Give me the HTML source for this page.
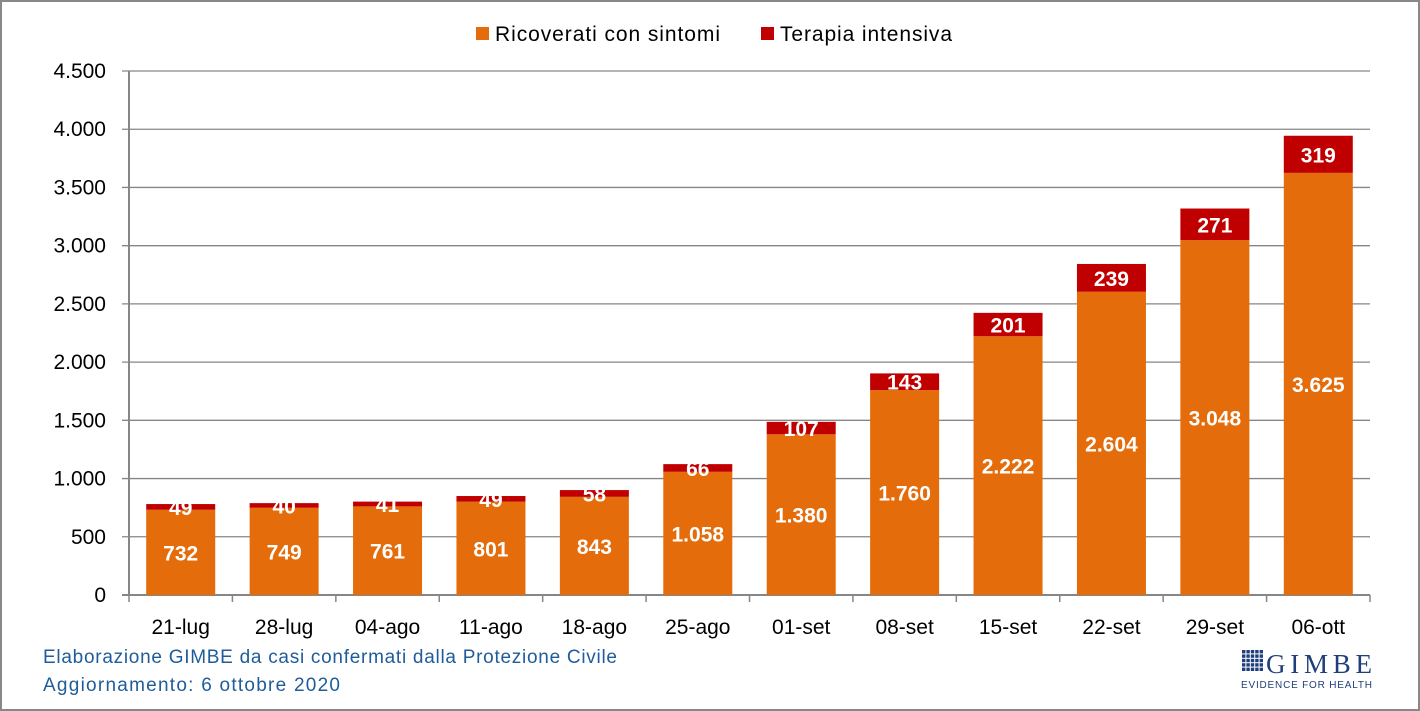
<!DOCTYPE html>
<html><head><meta charset="utf-8"><style>
html,body{margin:0;padding:0;background:#fff;}
svg{display:block;font-family:"Liberation Sans",Calibri,sans-serif;}
</style></head><body>
<svg id="c" width="1420" height="711" xmlns="http://www.w3.org/2000/svg">
<rect x="1" y="1" width="1418" height="709" fill="#fff" stroke="#888" stroke-width="2"/>
</svg>
<script>
const s=document.getElementById('c');const NS='http://www.w3.org/2000/svg';
function el(t,a,txt){const e=document.createElementNS(NS,t);for(const k in a)e.setAttribute(k,a[k]);if(txt!==undefined)e.textContent=txt;s.appendChild(e);return e;}
const y0=595,k=(595-71)/4500,x0=129,cw=(1370-129)/12,bw=69;
const labs=["0","500","1.000","1.500","2.000","2.500","3.000","3.500","4.000","4.500"];
for(let i=0;i<10;i++){const y=y0-i*500*k;
 el('line',{x1:122,x2:1370,y1:y,y2:y,stroke:'#868686','stroke-width':i==0?2:1.3});
 el('text',{x:106,y:y+7,'text-anchor':'end','font-size':21,fill:'#000'},labs[i]);}
el('line',{x1:x0,x2:x0,y1:71,y2:y0,stroke:'#868686','stroke-width':2});
const cats=["21-lug","28-lug","04-ago","11-ago","18-ago","25-ago","01-set","08-set","15-set","22-set","29-set","06-ott"];
const o=[732,749,761,801,843,1058,1380,1760,2222,2604,3048,3625];
const r=[49,40,41,49,58,66,107,143,201,239,271,319];
const fmt=v=>v>=1000?Math.floor(v/1000)+'.'+String(v%1000).padStart(3,'0'):String(v);
for(let i=0;i<=12;i++){const x=x0+i*cw;el('line',{x1:x,x2:x,y1:y0,y2:602,stroke:'#868686','stroke-width':1.5});}
for(let i=0;i<12;i++){const cx=x0+cw*(i+0.5);const yo=y0-o[i]*k,yr=yo-r[i]*k;
 el('rect',{x:cx-bw/2,y:yo,width:bw,height:y0-yo,fill:'#E46C0A'});
 el('rect',{x:cx-bw/2,y:yr,width:bw,height:yo-yr,fill:'#C00000'});
 el('text',{x:cx,y:(yo+y0)/2+8,'text-anchor':'middle','font-size':21,'font-weight':'bold',fill:'#fff'},fmt(o[i]));
 el('text',{x:cx,y:(yr+yo)/2+8,'text-anchor':'middle','font-size':21,'font-weight':'bold',fill:'#fff'},fmt(r[i]));
 el('text',{x:cx,y:634,'text-anchor':'middle','font-size':21,fill:'#000'},cats[i]);}
el('rect',{x:476,y:27,width:13,height:13,fill:'#E46C0A'});
el('text',{x:495,y:41,'font-size':21,fill:'#000',textLength:225},'Ricoverati con sintomi');
el('rect',{x:761,y:27,width:13,height:13,fill:'#C00000'});
el('text',{x:780,y:41,'font-size':21,fill:'#000',textLength:172},'Terapia intensiva');
el('text',{x:43,y:663,'font-size':19,fill:'#1F5C99',textLength:574},'Elaborazione GIMBE da casi confermati dalla Protezione Civile');
el('text',{x:43,y:691,'font-size':19,fill:'#1F5C99',textLength:297},'Aggiornamento: 6 ottobre 2020');
for(let a=0;a<5;a++)for(let b=0;b<5;b++)el('rect',{x:1242+a*4.4,y:650+b*4.4,width:3.4,height:3.4,fill:'#1F3F7A'});
el('text',{x:1266,y:673,'font-size':27,'font-family':'Liberation Serif,serif',fill:'#1F3F7A',textLength:106},'GIMBE');
el('text',{x:1241,y:688,'font-size':10,fill:'#1F3F7A',textLength:131},'EVIDENCE FOR HEALTH');
</script>
</body></html>
